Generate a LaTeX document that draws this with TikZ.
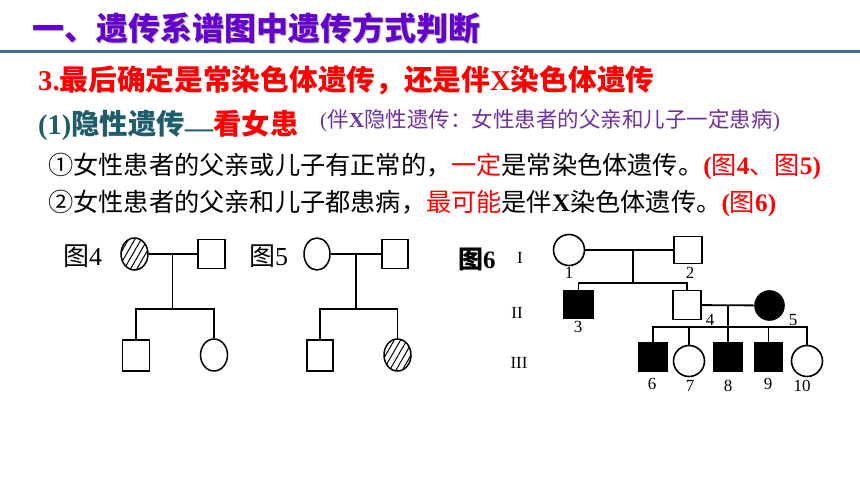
\documentclass[tikz,border=0pt]{standalone}
\usepackage{fontspec}
\setmainfont{Liberation Serif}
\newfontfamily\cjk{Noto Sans CJK SC}
\usetikzlibrary{shapes.geometric,patterns.meta}
\definecolor{ttlpurple}{HTML}{6600CC}
\definecolor{shadowgray}{HTML}{B8B8C8}
\definecolor{barblue}{HTML}{41699A}
\definecolor{tealtxt}{HTML}{1F5D6C}
\definecolor{parpurple}{HTML}{7030A0}
\newcommand\latn[1]{{\rmfamily\bfseries #1}}
\newcommand\latr[1]{{\rmfamily #1}}
\begin{document}
\begin{tikzpicture}[x=1pt,y=-1pt,
  conn/.style={draw=black,line width=1.8pt},
  fem/.style={draw,ellipse,line width=1.5pt,inner sep=0,minimum width=27,minimum height=32},
  mal/.style={draw,rectangle,line width=1.5pt,inner sep=0,minimum width=27,minimum height=29},
  fem6/.style={draw,circle,line width=1.6pt,inner sep=0,minimum size=31},
  mal6/.style={draw,rectangle,line width=1.6pt,inner sep=0,minimum width=28,minimum height=28},
  hatch/.style={pattern={Lines[angle=60,distance=5.5pt,line width=1pt]}},
  aff/.style={fill=black},
  num/.style={font=\fontsize{17}{17}\selectfont,inner sep=0},
  txt/.style={anchor=west,inner sep=0}]
\useasboundingbox (0,0) rectangle (860,484);
\fill[white] (0,0) rectangle (860,484);
% title and bar
\node[txt,text=shadowgray,font=\cjk\bfseries\fontsize{32}{34}\selectfont] (ttlsh) at (33.5,29.5) {一、遗传系谱图中遗传方式判断};
\node[txt,text=ttlpurple,font=\cjk\bfseries\fontsize{32}{34}\selectfont] (ttl) at (32,28) {一、遗传系谱图中遗传方式判断};
\fill[barblue] (0,50) rectangle (860,53);
% text lines
\node[txt,text=red,font=\cjk\bfseries\fontsize{28.7}{30}\selectfont] (l2) at (38,80) {\latn{3.}最后确定是常染色体遗传，还是伴\latn{X}染色体遗传};
\node[txt,font=\cjk\bfseries\fontsize{28.4}{30}\selectfont] (l3) at (38,125) {{\color{tealtxt}\latn{(1)}隐性遗传\raisebox{-3pt}{\latn{—}}}{\color{red}看女患}};
\node[txt,text=parpurple,font=\cjk\fontsize{21.5}{23}\selectfont] (l3b) at (320,121) {\latr{(}伴\latn{X}隐性遗传：女性患者的父亲和儿子一定患病\latr{)}};
\node[txt,font=\cjk\fontsize{25.2}{27}\selectfont] (l4) at (48,166) {①女性患者的父亲或儿子有正常的，{\color{red}一定}是常染色体遗传。{\color{red}\latn{(}图\latn{4}、图\latn{5)}}};
\node[txt,font=\cjk\fontsize{25.2}{27}\selectfont] (l5) at (48,203) {②女性患者的父亲和儿子都患病，{\color{red}最可能}是伴\latn{X}染色体遗传。{\color{red}\latn{(}图\latn{6)}}};
% figure 4
\node[txt,font=\fontsize{26}{28}\selectfont] (lab4) at (63,256) {{\cjk 图}4};
\node[fem,hatch] (f4a) at (134.5,254) {};
\node[mal] (f4b) at (211.5,254) {};
\coordinate (m4) at (172.5,254);
\coordinate (s4) at (172.5,309);
\node[mal,minimum height=31] (f4c) at (136,355.5) {};
\node[fem] (f4d) at (214,355) {};
\path[conn] (f4a) -- (f4b);
\path[conn] (m4) -- (s4);
\path[conn] (f4c) |- (s4) -| (f4d);
% figure 5
\node[txt,font=\fontsize{26}{28}\selectfont] (lab5) at (249,256) {{\cjk 图}5};
\node[fem,minimum width=26] (f5a) at (317,254) {};
\node[mal,minimum width=26] (f5b) at (395,254) {};
\coordinate (m5) at (356,254);
\coordinate (s5) at (356,309);
\node[mal,minimum width=26,minimum height=31] (f5c) at (320,355.5) {};
\node[fem,hatch] (f5d) at (397.5,355) {};
\path[conn] (f5a) -- (f5b);
\path[conn] (m5) -- (s5);
\path[conn] (f5c) |- (s5) -| (f5d);
% figure 6
\node[txt,font=\bfseries\fontsize{25}{27}\selectfont] (lab6) at (458,259) {{\cjk 图}6};
\node[num] (g1) at (520,258) {I};
\node[num] (g2) at (517,313) {II};
\node[num] (g3) at (519,363) {III};
\node[fem6] (p1) at (569,250) {};
\node[mal6,minimum height=27] (p2) at (688,250) {};
\coordinate (m1) at (633,250);
\coordinate (s1) at (633,283);
\node[mal6,aff,minimum width=29,minimum height=27] (p3) at (578.5,304.5) {};
\node[mal6,minimum height=29] (p4) at (687,305) {};
\node[fem6,aff,minimum size=29] (p5) at (769.5,305.5) {};
\coordinate (m2) at (728,305.5);
\coordinate (s2) at (728,327);
\node[mal6,aff] (p6) at (653,357) {};
\node[fem6] (p7) at (689,361) {};
\node[mal6,aff,minimum width=29] (p8) at (728,357) {};
\node[mal6,aff,minimum width=27] (p9) at (768.5,357) {};
\node[fem6] (p10) at (807,361) {};
\path[conn] (p1) -- (p2);
\path[conn] (m1) -- (s1);
\path[conn] (p3) |- (s1) -| (p4);
\path[conn] (p4) -- (p5);
\path[conn] (m2) -- (p8);
\path[conn] (p6) |- (s2) -| (p10);
\path[conn] (p7) -- (p7 |- s2);
\path[conn] (p9) -- (p9 |- s2);
\node[num] (n1) at (569,273) {1};
\node[num] (n2) at (690,273) {2};
\node[num] (n3) at (578,327) {3};
\node[num] (n4) at (710,320) {4};
\node[num] (n5) at (793,320) {5};
\node[num] (n6) at (652,384) {6};
\node[num] (n7) at (690,386) {7};
\node[num] (n8) at (728,386) {8};
\node[num] (n9) at (768,384) {9};
\node[num] (n10) at (802,386) {10};
\end{tikzpicture}
\end{document}
